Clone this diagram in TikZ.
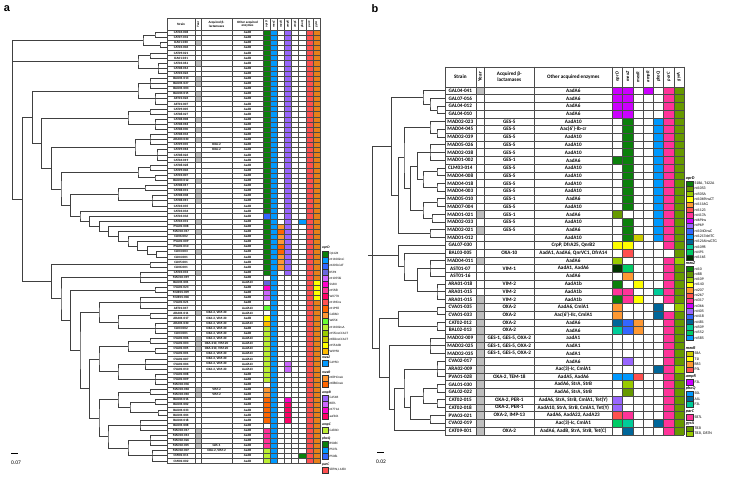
\documentclass[tikz,border=0pt]{standalone}
\usepackage{fontspec}
\setmainfont{Carlito}
\newfontfamily\labfont{Liberation Sans}
\usetikzlibrary{calc}

\definecolor{cDG}{HTML}{0B800B}
\definecolor{cBlue}{HTML}{0099FF}
\definecolor{cRoy}{HTML}{3366FF}
\definecolor{cSlate}{HTML}{6666DD}
\definecolor{cMag}{HTML}{FF00CC}
\definecolor{cViol}{HTML}{CC00FF}
\definecolor{cOrch}{HTML}{CC66FF}
\definecolor{cHP}{HTML}{FF3399}
\definecolor{cCrim}{HTML}{FF0066}
\definecolor{cRed}{HTML}{FF5050}
\definecolor{cDor}{HTML}{FF6600}
\definecolor{cLor}{HTML}{FF9933}
\definecolor{cBG}{HTML}{66FF33}
\definecolor{cLime}{HTML}{BBEE33}
\definecolor{cYel}{HTML}{FFFF00}
\definecolor{cGold}{HTML}{FFBB00}
\definecolor{cPurp}{HTML}{9966FF}
\definecolor{cOra}{HTML}{E8801A}
\definecolor{cOl}{HTML}{669900}
\definecolor{cYG}{HTML}{99CC00}
\definecolor{cOY}{HTML}{CCCC00}
\definecolor{cDBlue}{HTML}{006699}
\definecolor{cTeal}{HTML}{00CC99}
\definecolor{cG2}{HTML}{00CC66}
\definecolor{cVD}{HTML}{003300}
\definecolor{cYr}{HTML}{BFBFBF}

% row heights of the two tables
\def\ha{5.1}
\def\hb{7.73}

% tree helpers: join two children at x, comb of leaves at x
\newcommand\tjoin[4]{%
  \coordinate (#1m) at ($(#3)!.5!(#4)$);
  \coordinate (#1) at (#2,0 |- #1m);
  \draw[branch] (#3) -| (#1) |- (#4);}
\newcommand\tcomb[5]{%
  \coordinate (#1m) at ($(#3#4)!.5!(#3#5)$);
  \coordinate (#1) at (#2,0 |- #1m);
  \draw[branch] (#3#4) -| (#1) |- (#3#5);
  \foreach \k in {#4,...,#5} \draw[branch] (#3\k) -- (#3\k -| #1);}
% coloured cells of the two tables
\newcommand\fa[4]{\fill[fill=#4] ({263+7.125*(#1-1)},{30+\ha*(#2-1)}) rectangle ({263+7.125*#1},{30+\ha*#3});}
\newcommand\fb[4]{\fill[fill=#4] ({612.3+10.24*(#1-1)},{86.8+\hb*(#2-1)}) rectangle ({612.3+10.24*#1},{86.8+\hb*#3});}
% legend entries
\newcommand\lga[3]{%
  \filldraw[fill=#2, draw=black!80, line width=.25bp] (322.3,#1-3.05) rectangle (328.3,#1+3.05);
  \node[txl, anchor=west] at (329.3,#1) {#3};}
\newcommand\lgb[3]{%
  \filldraw[fill=#2, draw=black!80, line width=.25bp] (685.7,#1-2.65) rectangle (693.3,#1+2.65);
  \node[txm, anchor=west] at (694.3,#1) {#3};}

\tikzset{
  branch/.style={line width=0.8bp, black!75},
  grid/.style={line width=0.3bp, black!70},
  txa/.style={font=\fontsize{3.3}{3.6}\selectfont\bfseries, inner sep=0pt},
  txb/.style={font=\fontsize{5.2}{5.8}\selectfont\bfseries, inner sep=0pt},
  txl/.style={font=\fontsize{3.3}{3.6}\selectfont, inner sep=0pt},
  txm/.style={font=\fontsize{3.9}{4.2}\selectfont, inner sep=0pt},
  gtitle/.style={font=\fontsize{3.6}{4}\selectfont\itshape\bfseries, inner sep=0pt, anchor=west},
}

\begin{document}
\begin{tikzpicture}[x=1bp, y=-1bp]
\useasboundingbox (0,0) rectangle (739,484);

\node[font=\labfont\fontsize{11}{12}\selectfont\bfseries] (la) at (7,9) {a};
\node[font=\labfont\fontsize{11}{12}\selectfont\bfseries] (lb) at (375,9) {b};

%%%%%%%%%%%%%%%% panel a %%%%%%%%%%%%%%%%
% leaves
\foreach \r in {1,...,85} \coordinate (a\r) at (167,{30+\ha*(\r-0.5)});

% upper part of the tree
\tcomb{A1}{155}{a}{1}{2}
\tcomb{A2}{160}{a}{3}{4}
\tjoin{A}{143}{A1}{A2}
\tcomb{B1}{150}{a}{5}{6}
\tcomb{B2}{158}{a}{7}{9}
\tjoin{B}{138}{B1}{B2}
\tcomb{Ca1}{150}{a}{10}{12}
\tcomb{Ca2}{155}{a}{13}{15}
\tjoin{Ca}{138}{Ca1}{Ca2}
\tcomb{Cb1}{150}{a}{16}{17}
\tcomb{Cb2}{155}{a}{18}{20}
\tjoin{Cb}{128}{Cb1}{Cb2}
\tcomb{D1}{150}{a}{21}{23}
\tcomb{D2}{157}{a}{24}{26}
\tjoin{D}{135}{D1}{D2}
\tcomb{E1}{150}{a}{27}{28}
\tcomb{E2}{155}{a}{29}{30}
\tjoin{E}{138}{E1}{E2}
\tcomb{F1}{145}{a}{31}{32}
\tcomb{F2}{152}{a}{33}{35}
\tjoin{F}{118}{F1}{F2}
% ladder
\coordinate (L45) at (a45);
\foreach \k in {44,...,36} {
  \pgfmathtruncatemacro\kk{\k+1}
  \pgfmathsetmacro\xx{80+9.6*(\k-36)}
  \tjoin{L\k}{\xx}{a\k}{L\kk}
}
\tjoin{G}{70.7}{F}{L36}
\tjoin{H}{61}{E}{G}
\tjoin{I}{51.7}{D}{H}
\tjoin{J}{41.7}{Cb}{I}
\tjoin{K}{32.3}{Ca}{J}

% lower part of the tree
\tcomb{M1}{150}{a}{46}{47}
\tcomb{M2}{140}{a}{48}{50}
\tcomb{M3}{155}{a}{51}{52}
\tcomb{N1}{140}{a}{53}{55}
\tcomb{N2a}{150}{a}{56}{57}
\tcomb{N2b}{155}{a}{58}{60}
\tjoin{N2}{118}{N2a}{N2b}
\tjoin{N}{99}{N1}{N2}
\tcomb{P1a}{150}{a}{61}{62}
\tcomb{P1b}{155}{a}{63}{64}
\tjoin{P1}{128}{P1a}{P1b}
\tcomb{P2a}{145}{a}{65}{67}
\tcomb{P2b}{155}{a}{68}{70}
\tjoin{P2}{118}{P2a}{P2b}
\tjoin{P}{99}{P1}{P2}
\tcomb{Q1a}{150}{a}{71}{72}
\tcomb{Q1b}{155}{a}{73}{74}
\tcomb{Q1c}{158}{a}{75}{76}
\tjoin{Q1d}{130}{Q1b}{Q1c}
\tjoin{Q1}{118}{Q1a}{Q1d}
\tcomb{Q2a}{140}{a}{77}{79}
\tcomb{Q2b}{150}{a}{80}{82}
\tcomb{Q2c}{152}{a}{83}{85}
\tjoin{Q2d}{128}{Q2b}{Q2c}
\tjoin{Q2}{108}{Q2a}{Q2d}
\tjoin{Q}{99}{Q1}{Q2}
\tjoin{R}{89.3}{P}{Q}
\tjoin{S}{80}{N}{R}
\tjoin{T}{70.7}{M3}{S}
\tjoin{U}{61}{M2}{T}
\tjoin{V}{51.7}{M1}{U}
\tjoin{W}{22.3}{K}{V}
% root
\coordinate (rootA) at (12.7,0 |- A);
\draw[branch] (A) -| (rootA) |- (W);
\draw[branch] (B) -- (B -| rootA);

% scale bar
\coordinate (sa1) at (11,453);
\coordinate (sa2) at (18,453);
\draw[line width=.8bp] (sa1) -- (sa2);
\node[txb, font=\fontsize{5.5}{6}\selectfont] (sa) at (16,463) {0.07};

% table a: year column and coloured cells
\foreach \r in {3,7,10,11,13,14,18,20,22,25,26,30,32,33,34,38,40,44,48,56,61,62,63,71,72,79,80,81,82}
  {\fill[cYr] (195,{30+\ha*(\r-1)}) rectangle (201,{30+\ha*\r});}
\foreach \c/\p/\q/\k in {1/1/36/cDG, 1/37/37/cRoy, 1/38/48/cDG, 1/50/50/cSlate, 1/51/51/cMag,
  1/52/53/cOrch, 1/55/55/cBG, 1/57/57/cYel, 1/58/58/cGold, 1/59/69/cLime, 1/71/72/cLor,
  1/73/77/cDor, 1/79/82/cHP, 1/83/85/cLime, 2/1/85/cBlue,
  3/39/39/cLor, 3/40/40/cDor, 3/41/42/cLor, 3/43/44/cDor, 3/45/47/cLor,
  4/1/48/cPurp, 4/66/67/cOrch, 4/73/73/cMag, 4/74/77/cCrim,
  6/38/38/cBlue, 6/84/84/cDG, 7/1/85/cRed, 8/1/85/cOra, 8/50/53/cYel}
  {\fa{\c}{\p}{\q}{\k}}

% grid a
\foreach \r in {0,...,85} {\draw[grid] (167,{30+\ha*\r}) -- (320,{30+\ha*\r});}
\draw[grid] (167,18.3) -- (320,18.3);
\foreach \x in {167,195,201,232,263,270.1,277.3,284.4,291.5,298.6,305.8,312.9,320}
  {\draw[grid] (\x,18.3) -- (\x,{30+85*\ha});}

% header a
\node[txa] (ha1) at (181,24.2) {Strain};
\node[txa, rotate=90] (ha2) at (198,24.2) {Year};
\node[txa, align=center] (ha3) at (216.5,24.2) {Acquired β-\\lactamases};
\node[txa, align=center] (ha4) at (247.5,24.2) {Other acquired\\enzymes};
\foreach \g [count=\i] in {oprD,mexZ,mexR,ampR,ampC,phoQ,parC,gyrA}
  {\node[txa, rotate=90, font=\fontsize{3.1}{3.4}\selectfont\bfseries\itshape] (hg\i) at ({263+7.125*(\i-0.5)},24.2) {\g};}

% rows a
\foreach \s [count=\r] in {CAT04-008,CAT07-032,ICA01-030,CAT03-006,CAT09-021,ICA01-031,CAT03-061,
  CAT08-016,CAT03-026,BAU01-013,BAU01-027,BAU01-003,BAU04-015,AST01-026,AST01-007,CAT09-005,
  CAT08-027,CAT08-008,CAT08-018,CAT08-030,CAT08-034,ARA03-030,CAT09-035,CAT09-018,CAT08-026,
  CAT04-019,CAT08-028,CAT09-006,CAT03-007,BAU03-012,CAT08-017,CAT08-031,CAT08-038,CAT08-015,
  CAT03-035,CAT03-034,CAT03-036,CAT04-031,PVA01-008,MAD04-017,CLI06-002,PVA01-009,PVA01-010,
  CLI03-003,CLI04-001,CLI05-001,CLI06-001,CAT03-033,MAD04-019,BAU01-001,CVA01-023,MUR01-009,
  MUR01-006,CVA01-021,AST01-047,ARA01-011,ARA01-017,ARA01-030,CLI03-002,CLI03-001,CVA01-006,
  CVA01-003,CVA01-005,CVA01-001,CVA01-007,CVA01-004,CVA01-010,CVA01-008,CVA01-009,MAD04-036,
  MAD03-018,MAD03-010,BAU04-016,BAU01-002,BAU01-033,BAU01-004,BAU04-018,BAU01-008,MAD03-017,
  MAD03-013,MAD02-026,MAD02-005,MAD02-007,CMI01-011,CMI01-002}
  {\node[txa] (sa\r) at (181,{30+\ha*(\r-0.5)}) {\s};}
\foreach \r in {1,...,49,51,52,53,54,57,59,60,68,69,...,85}
  {\node[txa] (ea\r) at (247.5,{30+\ha*(\r-0.5)}) {AadB};}
\foreach \r in {50,55,56,58,61,62,63,64,65,66,67}
  {\node[txa] (ea\r) at (247.5,{30+\ha*(\r-0.5)}) {AadA13};}
\foreach \r/\t in {23/OXA-2, 24/OXA-2, 56/{OXA-2, VIM-20}, 57/{OXA-2, VIM-20}, 58/{OXA-2, VIM-20},
  59/{OXA-2, VIM-20}, 60/{OXA-2, VIM-20}, 61/{OXA-2, VIM-20}, 62/{OXA-210, VIM-20},
  63/{OXA-210, VIM-20}, 64/{OXA-2, VIM-20}, 65/{OXA-2, VIM-20}, 66/{OXA-2, VIM-20},
  67/{OXA-2, VIM-20}, 71/VIM-2, 72/VIM-2, 82/GES-1, 83/{OXA-2, VIM-2}}
  {\node[txa] (ba\r) at (216.5,{30+\ha*(\r-0.5)}) {\t};}

% legend a
\node[gtitle] (ta1) at (322,247.7) {oprD};
\foreach \c/\t [count=\i] in {cDG/Q142X, cBlue/nt1100insC, cRoy/nt205LCAT, cSlate/K59X, cOrch/nt1055bi,
  cMag/S160I, cHP/nt558I, cCrim/W277X, cRed/nt196ins, cDor/nt1998, cLor/G186D, cBG/W65X,
  cLime/nt1100insA, cYG/nt55insCCACT, cOY/nt80insCCACT, cYel/nt554dB, cGold/W395X}
  {\pgfmathsetmacro\yy{253.7+6.1*(\i-1)}\lga{\yy}{\c}{\t}}
\node[gtitle] (ta2) at (322,357.5) {mexZ};
\lga{362.9}{cBlue}{G195D}
\node[gtitle] (ta3) at (322,372.3) {mexR};
\lga{377.7}{cLor}{nt891insA}
\lga{383.8}{cDor}{nt880insA}
\node[gtitle] (ta4) at (322,392.3) {ampR};
\lga{397.7}{cPurp}{G154R}
\lga{403.8}{cOrch}{R87L}
\lga{409.9}{cMag}{nt771A}
\lga{416.0}{cCrim}{aaf361}
\node[gtitle] (ta5) at (322,424.6) {ampC};
\lga{430.0}{cLime}{G183D}
\node[gtitle] (ta6) at (322,438.4) {phoQ};
\lga{443.8}{cDG}{R508C}
\lga{449.9}{cBlue}{P507L}
\lga{456.0}{cRoy}{P508L}
\node[gtitle] (ta7) at (322,464.6) {parC};
\lga{470.0}{cRed}{S87W, L168I}

%%%%%%%%%%%%%%%% panel b %%%%%%%%%%%%%%%%
\foreach \r in {1,...,45} \coordinate (b\r) at (445,{86.8+\hb*(\r-0.5)});

% upper clade
\tcomb{bG3}{437}{b}{3}{4}
\tjoin{bG2}{430}{b2}{bG3}
\tjoin{bG}{423}{b1}{bG2}
\tcomb{bA1}{437}{b}{6}{7}
\tjoin{bA}{430}{b5}{bA1}
\tcomb{bB1}{430}{b}{8}{10}
\tcomb{bB2}{437}{b}{11}{12}
\tcomb{bB3}{437}{b}{13}{14}
\tjoin{bB4}{423}{bB2}{bB3}
\tjoin{bB}{417.3}{bB1}{bB4}
\tcomb{bC1}{437}{b}{15}{16}
\tcomb{bC2}{432}{b}{17}{18}
\tjoin{bC}{423}{bC1}{bC2}
\tjoin{bD}{410.7}{bB}{bC}
\tjoin{bE}{404}{bA}{bD}
\tcomb{bF}{430}{b}{19}{20}
\tjoin{bM}{398.7}{bE}{bF}
\tjoin{bT}{391.3}{bG}{bM}
% middle clade
\tcomb{bH1}{430}{b}{23}{25}
\tcomb{bH2}{437}{b}{26}{28}
\tjoin{bH3}{417.3}{bH1}{bH2}
\tjoin{bH4}{404}{b22}{bH3}
\tjoin{bMid}{398.7}{b21}{bH4}
% lower clade
\tcomb{bK1}{437}{b}{29}{30}
\tcomb{bK2}{437}{b}{31}{32}
\tjoin{bK}{398.7}{bK1}{bK2}
\tcomb{bL1}{430}{b}{33}{35}
\tcomb{bN1}{437}{b}{36}{38}
\tcomb{bN2}{437}{b}{39}{40}
\tcomb{bN3}{437}{b}{41}{42}
\tjoin{bN4}{423}{bN2}{bN3}
\tcomb{bN5}{430}{b}{43}{44}
\tjoin{bN6}{410.7}{bN4}{bN5}
\tjoin{bN}{404}{bN1}{bN6}
\tjoin{bO}{394.7}{bN}{b45}
\tjoin{bL}{389.7}{bL1}{bO}
\tjoin{bBot}{379.7}{bK}{bL}
% root
\coordinate (rootB) at (372,0 |- bT);
\draw[branch] (bT) -| (rootB) |- (bBot);
\draw[branch] (bMid) -- (bMid -| rootB) -- ++(-4,0);

\coordinate (sb1) at (377,452);
\coordinate (sb2) at (384,452);
\draw[line width=.8bp] (sb1) -- (sb2);
\node[txb, font=\fontsize{5.5}{6}\selectfont] (sb) at (381,462) {0.02};

% table b: year column and coloured cells
\foreach \r in {1,17,19,23,28,29,...,45}
  {\fill[cYr] (475.7,{86.8+\hb*(\r-1)}) rectangle (484.3,{86.8+\hb*\r});}
\foreach \c/\p/\q/\k in {1/1/4/cViol, 1/10/10/cDG, 1/17/17/cOl, 1/21/21/cYel, 1/23/23/cYG,
  1/24/24/cVD, 1/26/26/cDG, 1/27/27/cHP, 1/28/28/cDG, 1/29/30/cLor, 1/31/31/cDBlue,
  1/32/32/cTeal, 1/38/38/cBlue, 1/41/42/cPurp, 1/43/43/cRed, 1/44/44/cG2,
  2/1/4/cViol, 2/5/16/cDG, 2/18/20/cDG, 2/21/21/cYel, 2/22/22/cRed, 2/24/24/cG2, 2/25/25/cLor,
  2/27/28/cHP, 2/31/32/cRoy, 2/36/36/cPurp, 2/38/38/cBlue, 2/39/39/cYG, 2/40/40/cOl,
  2/43/43/cHP, 2/44/44/cTeal, 2/45/45/cDBlue,
  3/20/20/cOY, 3/26/26/cYel, 3/28/28/cYel, 3/31/32/cLor, 3/38/38/cRed,
  4/1/1/cViol, 5/5/20/cBlue, 5/27/27/cTeal, 5/29/30/cDBlue, 5/37/37/cDBlue, 5/44/44/cDBlue,
  6/1/21/cHP, 6/23/28/cHP, 6/30/45/cHP, 7/1/45/cOl, 7/23/23/cYG, 7/29/29/cYG, 7/37/37/cYG}
  {\fb{\c}{\p}{\q}{\k}}

% grid b
\foreach \r in {0,...,45} {\draw[grid] (445,{86.8+\hb*\r}) -- (684,{86.8+\hb*\r});}
\draw[grid] (445,66.7) -- (684,66.7);
\foreach \x in {445,475.7,484.3,534.3,612.3,622.5,632.8,643,653.3,663.5,673.8,684}
  {\draw[grid] (\x,66.7) -- (\x,{86.8+45*\hb});}

% header b
\node[txb] (hb1) at (460.3,76.75) {Strain};
\node[txb, rotate=90] (hb2) at (480,76.75) {Year};
\node[txb, align=center] (hb3) at (509.3,76.75) {Acquired β-\\lactamases};
\node[txb] (hb4) at (573.3,76.75) {Other acquired enzymes};
\foreach \g [count=\i] in {oprD,mexZ,mexR,ampR,phoQ,parC,gyrA}
  {\node[txb, rotate=90, font=\fontsize{4.6}{5}\selectfont\bfseries\itshape] (hh\i) at ({612.3+10.24*(\i-0.5)},76.75) {\g};}

% rows b
\foreach \s/\b/\e [count=\r] in {GAL04-041//AadA6, GAL07-016//AadA6, GAL04-012//AadA6, GAL04-010//AadA6,
  MAD02-023/GES-5/AadA10, MAD04-045/GES-5/Aac(6')-Ib-cr, MAD02-039/GES-5/AadA10,
  MAD05-026/GES-5/AadA10, MAD02-038/GES-5/AadA10, MAD01-002/GES-1/AadA6, CLM03-014/GES-5/AadA10,
  MAD04-008/GES-5/AadA10, MAD04-018/GES-5/AadA10, MAD04-003/GES-5/AadA10, MAD05-010/GES-1/AadA6,
  MAD07-004/GES-5/AadA10, MAD01-021/GES-1/AadA6, MAD02-033/GES-5/AadA10, MAD02-021/GES-5/AadA6,
  MAD01-012//AadA10, GAL07-030//{CrpP, DfrA25, QnrB2}, BAL03-005/OXA-10/{AadA1, AadA6, QnrVC1, DfrA14},
  MAD04-011//AadA6, AST01-07/VIM-1/{AadA1, AadA6}, AST01-16//AadA6, ARA01-018/VIM-2/AadA1b,
  ARA01-015/VIM-2/AadA1b, ARA01-015/VIM-2/AadA1b, CVA01-035/OXA-2/{AadA6, CmlA1},
  CVA01-033/OXA-2/{Aac(6')-IIc, CmlA1}, CAT02-012/OXA-2/AadA6, BAL02-013/OXA-2/AadA6,
  MAD02-009/{GES-1, GES-5, OXA-2}/aadA1, MAD02-025/{GES-1, GES-5, OXA-2}/AadA1,
  MAD02-035/{GES-1, GES-5, OXA-2}/AadA1, CVA02-017//AadA6, ARA02-009//{Aac(3)-Ic, CmlA1},
  PVA01-028/{OXA-2, TEM-18}/{AadA5, AadA6}, GAL01-030//{AadA6, StrA, StrB},
  GAL02-022//{AadA6, StrA, StrB}, CAT02-015/{OXA-2, PER-1}/{AadA6, StrA, StrB, CmlA1, Tet(Y)},
  CAT02-018/{OXA-2, PER-1}/{AadA10, StrA, StrB, CmlA1, Tet(Y)},
  PVA03-021/{OXA-2, IMP-13}/{AadA6, AadA22, AadA23}, CVA02-019//{Aac(3)-Ic, CmlA1},
  CAT09-001/OXA-2/{AadA6, AadB, StrA, StrB, Tet(C)}}
  {\node[txb] (sb\r) at (460.3,{86.8+\hb*(\r-0.5)}) {\s};
   \node[txb] (bb\r) at (509.3,{86.8+\hb*(\r-0.5)}) {\b};
   \node[txb] (eb\r) at (573.3,{86.8+\hb*(\r-0.5)}) {\e};}

% legend b
\node[gtitle, font=\fontsize{4.2}{4.6}\selectfont\itshape\bfseries] (tb1) at (685.7,178.3) {oprD};
\foreach \c/\t [count=\i] in {cDG/{S18A, T422A}, cOl/nt1053, cYG/nt505A, cYel/nt1069insCT, cLor/nt1116G,
  cRed/nt1123, cHP/nt417A, cViol/nt69ins, cPurp/nt969, cRoy/nt1040insC, cBlue/nt1217delTC,
  cDBlue/nt1216insGTG, cTeal/nt1098, cG2/nt491, cVD/nt1165}
  {\pgfmathsetmacro\yy{183.3+5.3*(\i-1)}\lgb{\yy}{\c}{\t}}
\node[gtitle, font=\fontsize{4.2}{4.6}\selectfont\itshape\bfseries] (tb2) at (685.7,263.5) {mexZ};
\foreach \c/\t [count=\i] in {cDG/nt10, cOl/nt88, cYG/nt109, cYel/nt140, cLor/nt207, cRed/nt267, cHP/nt317,
  cViol/nt366, cPurp/nt405, cRoy/nt418, cDBlue/nt481, cTeal/nt509, cG2/nt552, cBlue/nt585}
  {\pgfmathsetmacro\yy{268.8+5.3*(\i-1)}\lgb{\yy}{\c}{\t}}
\node[gtitle, font=\fontsize{4.2}{4.6}\selectfont\itshape\bfseries] (tb3) at (685.7,348.3) {mexR};
\lgb{353.6}{cOY}{S8A}
\lgb{358.9}{cYel}{T1I}
\lgb{364.2}{cLor}{R83}
\lgb{369.5}{cRed}{P3L}
\node[gtitle, font=\fontsize{4.2}{4.6}\selectfont\itshape\bfseries] (tb4) at (685.7,376.7) {ampR};
\lgb{382.0}{cViol}{F3L}
\node[gtitle, font=\fontsize{4.2}{4.6}\selectfont\itshape\bfseries] (tb5) at (685.7,388.2) {phoQ};
\lgb{393.5}{cBlue}{S0L}
\lgb{398.8}{cDBlue}{A1L}
\lgb{404.1}{cTeal}{F3L}
\node[gtitle, font=\fontsize{4.2}{4.6}\selectfont\itshape\bfseries] (tb6) at (685.7,411.7) {parC};
\lgb{417.0}{cHP}{S87L}
\node[gtitle, font=\fontsize{4.2}{4.6}\selectfont\itshape\bfseries] (tb7) at (685.7,423.2) {gyrA};
\lgb{428.5}{cOl}{T83I}
\lgb{433.8}{cYG}{T83I, D87N}

\end{tikzpicture}
\end{document}
